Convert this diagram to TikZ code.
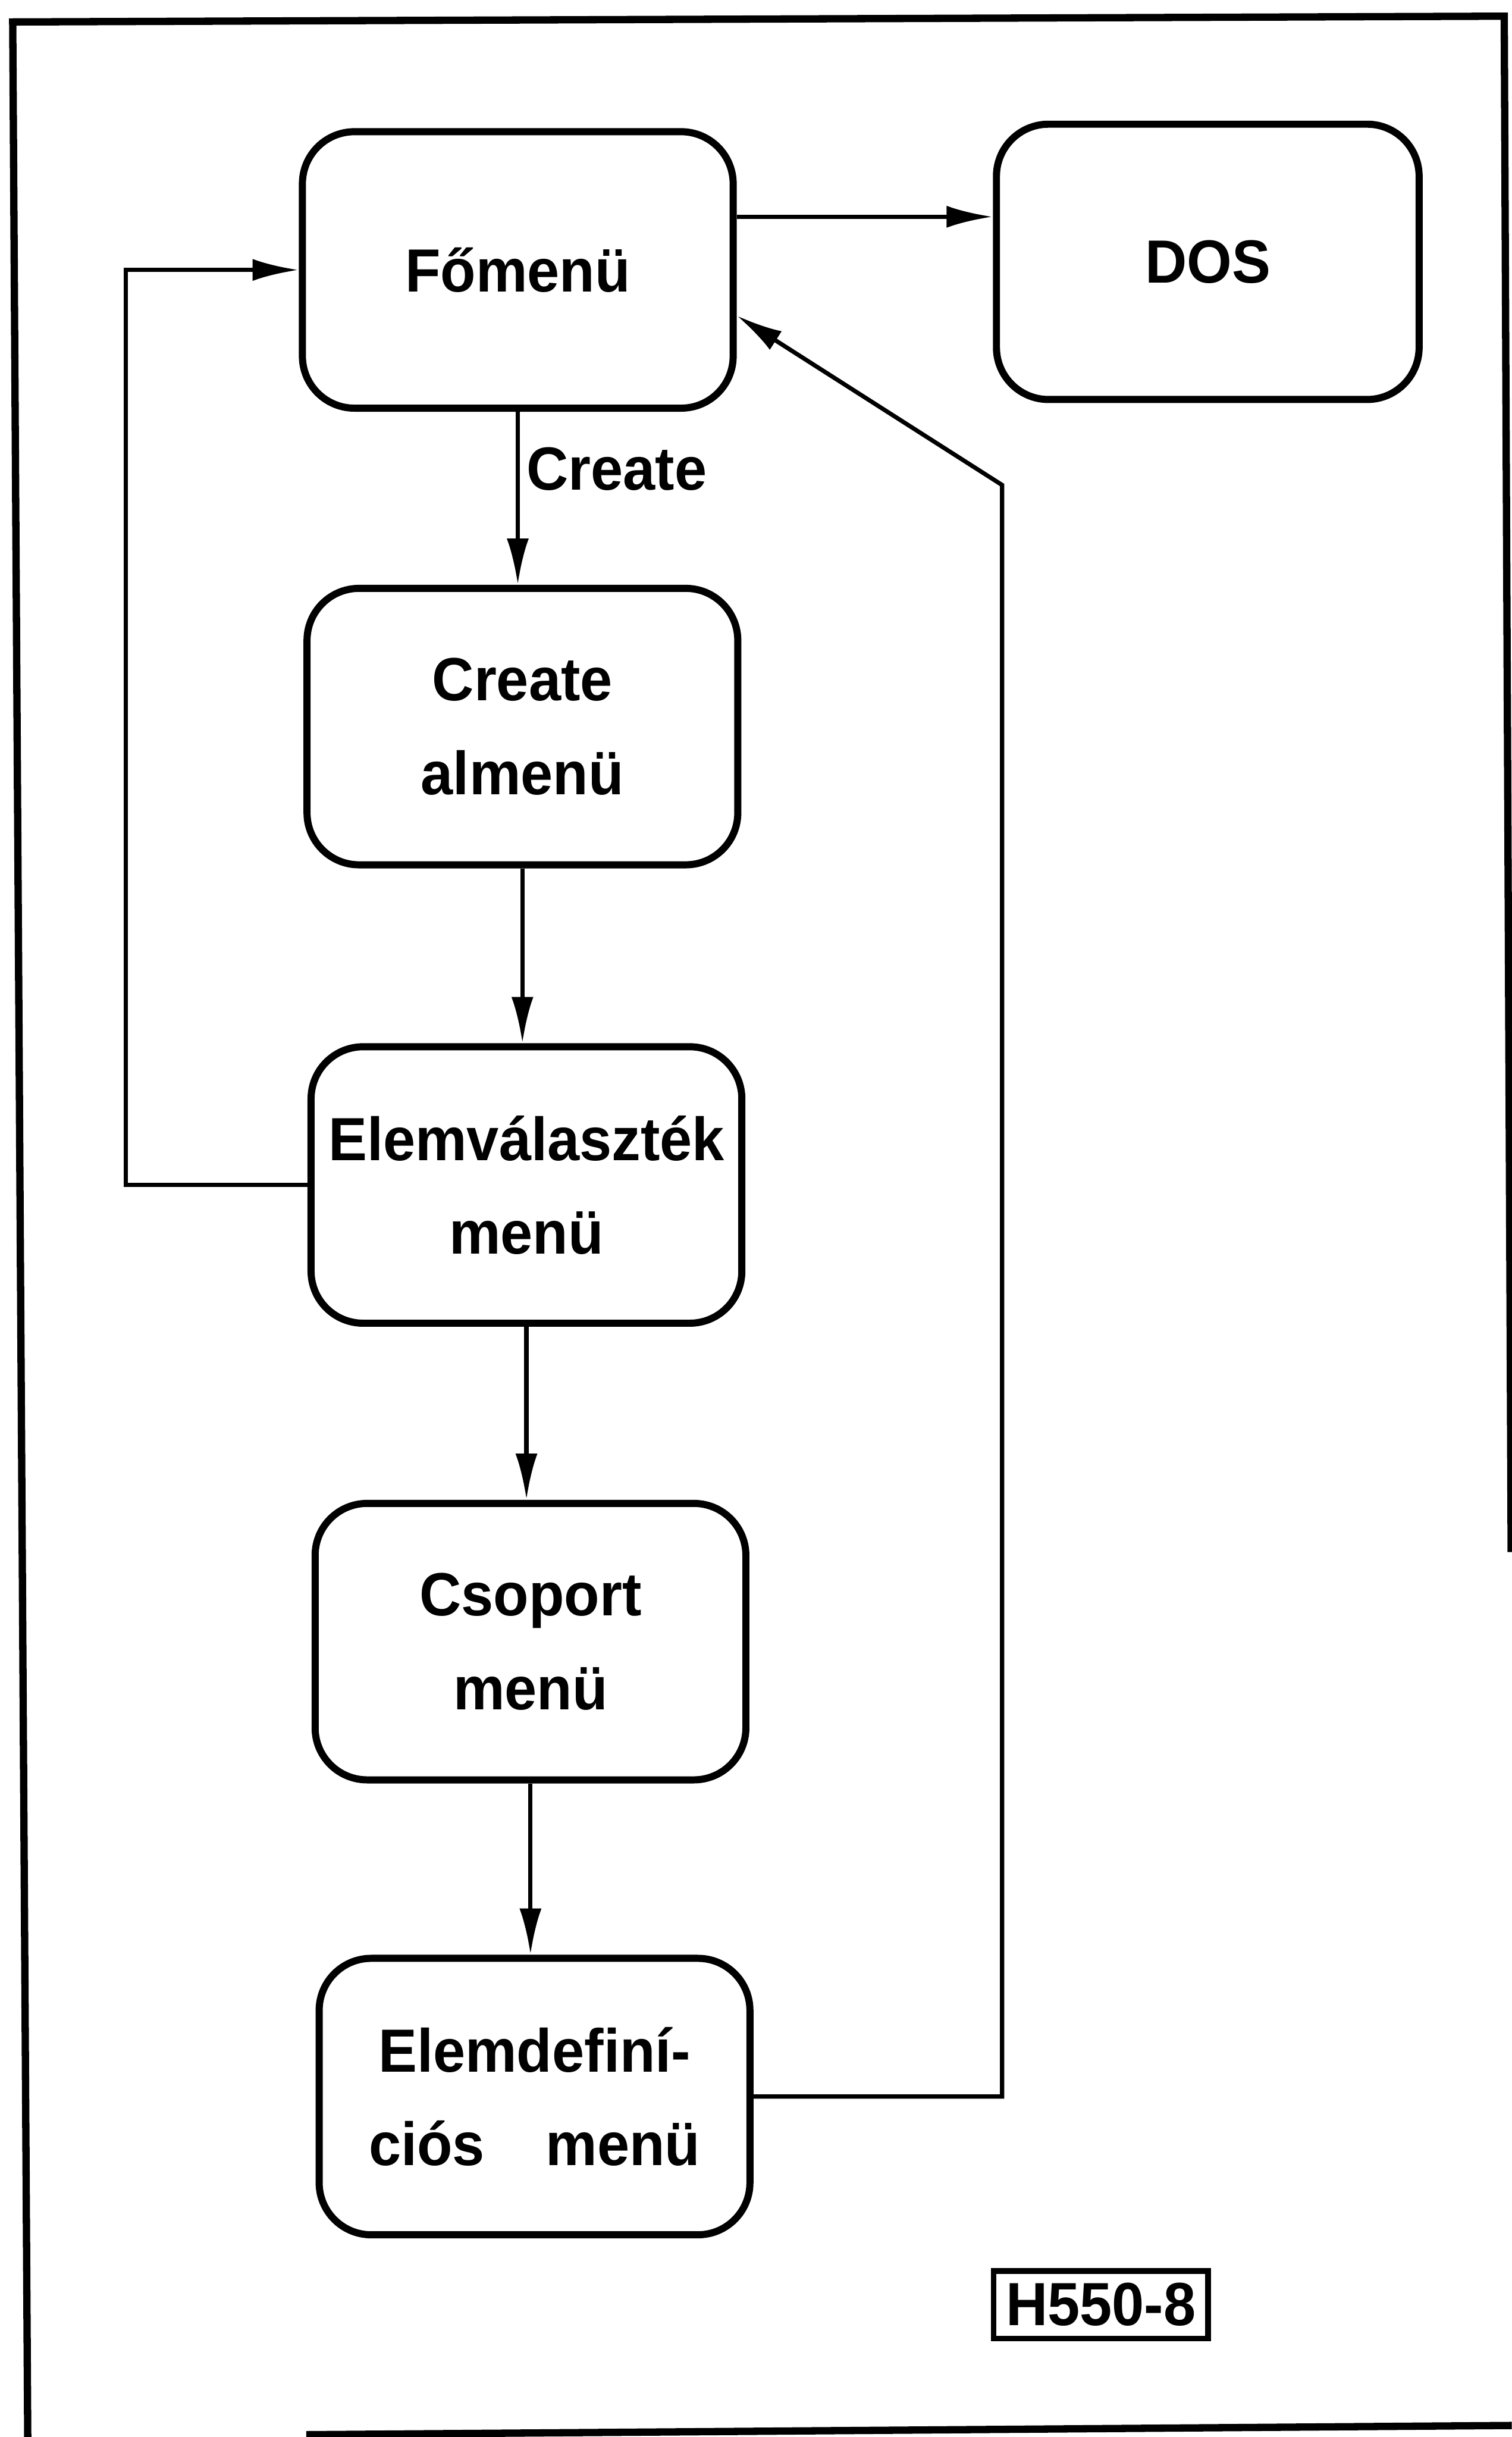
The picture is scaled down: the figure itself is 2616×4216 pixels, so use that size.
\documentclass[tikz,border=0pt]{standalone}
\usepackage{fontspec}
\setmainfont{Liberation Sans}[FakeStretch=0.95]
\usetikzlibrary{arrows.meta}

\begin{document}
\begin{tikzpicture}[x=0.01cm, y=-0.01cm,
    menubox/.style={draw, line width=3.5pt, rounded corners=0.9cm,
        minimum width=7.45cm, minimum height=4.78cm, inner sep=0pt,
        align=center, font=\bfseries\fontsize{30}{46}\selectfont},
    conn/.style={line width=2.1pt, -{Latex[length=0.8cm, width=0.38cm]}},
    frameline/.style={line width=3.6pt}]

    % Page frame
    \useasboundingbox (0,0) rectangle (2616,4216);
    \draw[frameline] (48,4216) -- (22,38) -- (2603,28) -- (2615,2685);
    \draw[frameline] (530,4212) -- (2616,4196);

    % Menus
    \node[menubox] (fomenu) at (896,467) {Főmenü};
    \node[menubox, minimum width=7.31cm, minimum height=4.76cm] (dos) at (2090,453) {DOS};
    \node[menubox] (create) at (904,1257) {Create\\almenü};
    \node[menubox] (elemval) at (911,2050) {Elemválaszték\\menü};
    \node[menubox] (csoport) at (918,2840) {Csoport\\menü};
    \node[menubox] (elemdef) at (925,3627) {Elemdefiní-\\ciós\quad menü};

    % Figure number
    \node[draw, line width=2.8pt, inner sep=6pt, font=\bfseries\fontsize{30}{36}\selectfont]
        (figno) at (1905,3987) {H550-8};

    % Forward arrows
    \draw[conn] (fomenu.east |- 0,375) -- (dos.west |- 0,375);
    \draw[conn] (fomenu.south) -- node[right, pos=0.33, font=\bfseries\fontsize{30}{36}\selectfont] {Create}
        (fomenu.south |- create.north);
    \draw[conn] (create.south) -- (create.south |- elemval.north);
    \draw[conn] (elemval.south) -- (elemval.south |- csoport.north);
    \draw[conn] (csoport.south) -- (csoport.south |- elemdef.north);

    % Return paths
    \coordinate (leftbend) at (218,1200);
    \draw[conn] (elemval.west) -| (leftbend) |- (fomenu.west);
    \coordinate (rightbend) at (1734,839);
    \draw[conn] (elemdef.east) -| (rightbend) -- (fomenu.east |- 0,546);
\end{tikzpicture}
\end{document}
